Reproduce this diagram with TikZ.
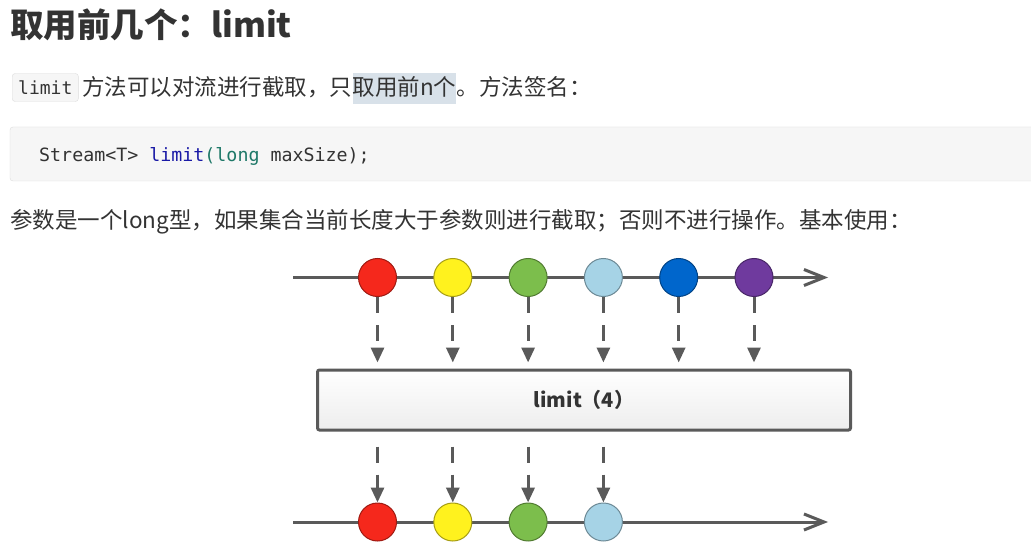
\documentclass[tikz,border=0pt]{standalone}
\usepackage{fontspec}
\setmainfont{Noto Sans CJK SC}
\setmonofont{DejaVu Sans Mono}
\usetikzlibrary{arrows.meta,positioning,calc}
\definecolor{txt}{HTML}{333333}
\definecolor{codebg}{HTML}{F6F6F6}
\definecolor{codeline}{HTML}{DDDDDD}
\definecolor{hlblue}{HTML}{D8E1E9}
\definecolor{kwblue}{HTML}{1A1AA6}
\definecolor{kwteal}{HTML}{1E7868}
\definecolor{lgray}{HTML}{5A5A5A}
\definecolor{cred}{HTML}{F5281C}
\definecolor{cyellow}{HTML}{FFF21E}
\definecolor{cgreen}{HTML}{7CBE4C}
\definecolor{clblue}{HTML}{A6D3E6}
\definecolor{cblue}{HTML}{0066CC}
\definecolor{cpurple}{HTML}{6F3A9E}
\tikzset{
    txtline/.style={anchor=base west, inner sep=0pt, text=txt, font=\fontsize{22.5}{27}\selectfont},
    timeline/.style={draw=lgray, line width=3pt, -{Straight Barb[length=20pt,width=16pt]}},
    ball/.style={circle, draw=#1!65!black, fill=#1, line width=1pt, minimum size=38pt, inner sep=0pt},
    dropline/.style={draw=lgray, line width=3pt, dash pattern=on 16pt off 12pt, -{Triangle[length=15pt,width=13pt]}},
    opbox/.style={draw=lgray, line width=3pt, rounded corners=2pt, top color=white, bottom color=black!7,
      minimum width=533pt, minimum height=60pt, text=txt, font=\bfseries\fontsize{20}{24}\selectfont},
  }

\begin{document}
\begin{tikzpicture}[x=1pt,y=-1pt]
				  %page in pixels, y downwards
				  \useasboundingbox[fill=white] (0,0) rectangle (1031,548);

				  \node[txtline, font=\bfseries\fontsize{33.5}{40}\selectfont] (title) at (10,37.5) {取用前几个：limit};

				  \node[anchor=west, fill=codebg, draw=codeline, rounded corners=3pt, inner xsep=6pt, minimum height=28pt,
				        text=txt, font=\ttfamily\fontsize{18}{20}\selectfont] (inl) at (12,87.5) {limit};
				  \node[txtline] (l2a) at (82,95.5) {方法可以对流进行截取，只};
				  \node[txtline, fill=hlblue, inner ysep=4pt, text height=18pt, text depth=5pt] (l2b) at (l2a.base east) {取用前n个};
				  \node[txtline] (l2c) at (l2b.base east) {。方法签名：};

				  \path[fill=codebg, draw=codeline, rounded corners=3pt] (10,127) rectangle (1040,181);
				  \node[anchor=base west, inner sep=0pt, text=txt, font=\ttfamily\fontsize{18.3}{22}\selectfont] (sig) at (39,161.5)
				       {Stream<T> \textcolor{kwblue}{limit}\textcolor{kwteal}{(long} maxSize);};

				  \node[txtline] (l4) at (10,228.5) {参数是一个long型，如果集合当前长度大于参数则进行截取；否则不进行操作。基本使用：};

				  %source stream
				  \coordinate (tin) at (293,277.5);
				  \coordinate (tout) at (828,277.5);
				  \draw[timeline] (tin) -- (tout);
				  \foreach \c [count=\i] in {cred,cyellow,cgreen,clblue,cblue,cpurple}
				    \node[ball=\c] (t\i) at ({377.5+75.3*(\i-1)},277.5) {};

				  \node[opbox] (lim) at (584,400) {limit（4）};

				  %result stream
				  \coordinate (bin) at (293,522);
				  \coordinate (bout) at (828,522);
				  \draw[timeline] (bin) -- (bout);
				  \foreach \c [count=\i] in {cred,cyellow,cgreen,clblue}
				    \node[ball=\c] (b\i) at ({377.5+75.3*(\i-1)},522) {};

				  \foreach \i in {1,...,6}
				    \draw[dropline, shorten >=6pt] (t\i) -- (t\i |- lim.north);
				  \foreach \i in {1,...,4}
				    \draw[dropline, shorten <=15pt] (t\i |- lim.south) -- (b\i);
				  \end{tikzpicture}
\end{document}
